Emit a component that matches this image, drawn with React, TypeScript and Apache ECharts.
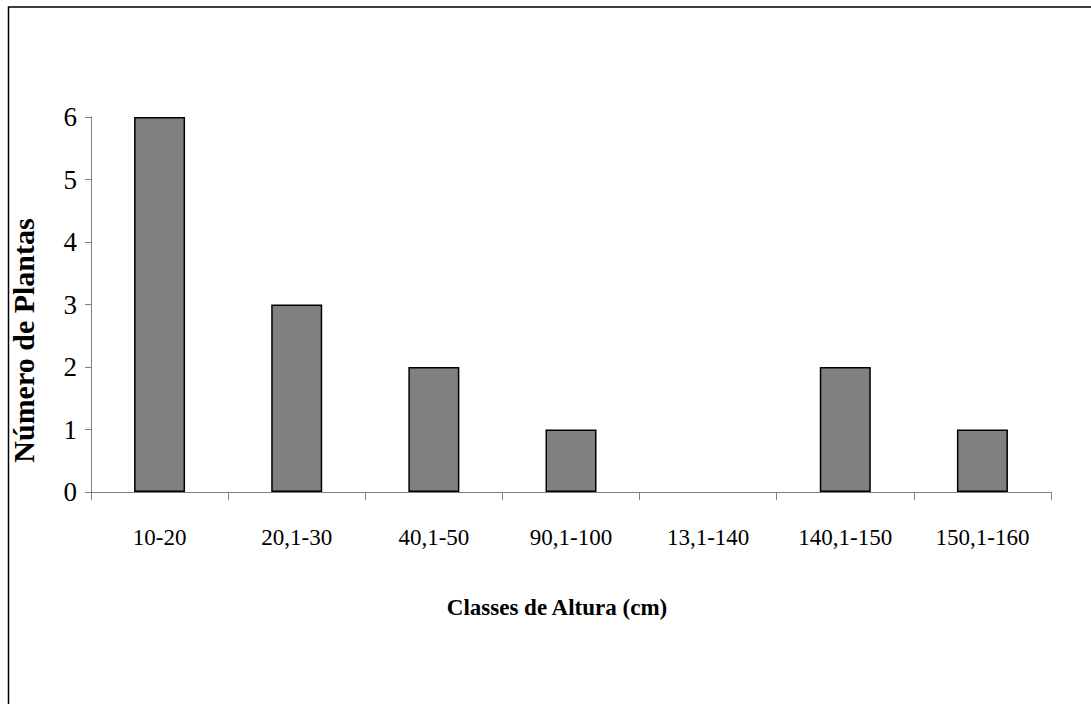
import React, { useEffect, useRef } from "react";
import * as echarts from "echarts";

const categories = ["10-20", "20,1-30", "40,1-50", "90,1-100", "13,1-140", "140,1-150", "150,1-160"];
const plantCounts = [6, 3, 2, 1, 0, 2, 1];
const yTicks = { min: 0, max: 6, interval: 1 };

const SERIF = "Liberation Serif";

export default function App() {
  const ref = useRef<HTMLDivElement>(null);
  useEffect(() => {
    if (!ref.current) return;
    const chart = echarts.init(ref.current, undefined, { renderer: "svg" });
    chart.setOption({
      animation: false,
      backgroundColor: "#ffffff",
      textStyle: { fontFamily: SERIF },
      graphic: [
        {
          type: "rect",
          silent: true,
          shape: { x: 8.5, y: 7, width: 1300, height: 1000 },
          style: { fill: "none", stroke: "#000", lineWidth: 1.5 },
        },
      ],
      grid: { left: 89, right: 40, top: 117, bottom: 212, containLabel: false },
      xAxis: {
        type: "category",
        data: categories,
        axisLine: { lineStyle: { color: "#808080", width: 1 } },
        axisTick: { show: true, length: 8, lineStyle: { color: "#808080" } },
        axisLabel: {
          color: "#000",
          fontFamily: SERIF,
          fontSize: 23,
          margin: 34,
          interval: 0,
        },
        name: "Classes de Altura (cm)",
        nameLocation: "middle",
        nameGap: 104,
        nameTextStyle: {
          color: "#000",
          fontFamily: SERIF,
          fontSize: 23,
          fontWeight: "bold",
          padding: [0, 28, 0, 0],
        },
      },
      yAxis: {
        type: "value",
        min: yTicks.min,
        max: yTicks.max,
        interval: yTicks.interval,
        splitLine: { show: false },
        axisLine: { show: true, lineStyle: { color: "#808080", width: 1 } },
        axisTick: { show: true, length: 6, lineStyle: { color: "#808080" } },
        axisLabel: {
          color: "#000",
          fontFamily: SERIF,
          fontSize: 27,
          margin: 14,
        },
        name: "Número de Plantas",
        nameLocation: "middle",
        nameGap: 53,
        nameTextStyle: {
          color: "#000",
          fontFamily: SERIF,
          fontSize: 30,
          fontWeight: "bold",
          padding: [0, 72, 0, 0],
        },
      },
      series: [
        {
          type: "bar",
          data: plantCounts.map((v) =>
            v === 0 ? { value: v, itemStyle: { borderWidth: 0 } } : v
          ),
          barWidth: 51,
          itemStyle: { color: "#808080", borderColor: "#000", borderWidth: 1.5 },
        },
      ],
    });
    return () => chart.dispose();
  }, []);
  return (
    <div
      ref={ref}
      style={{ position: "absolute", left: 0, top: 0, width: 1091, height: 704 }}
    />
  );
}
